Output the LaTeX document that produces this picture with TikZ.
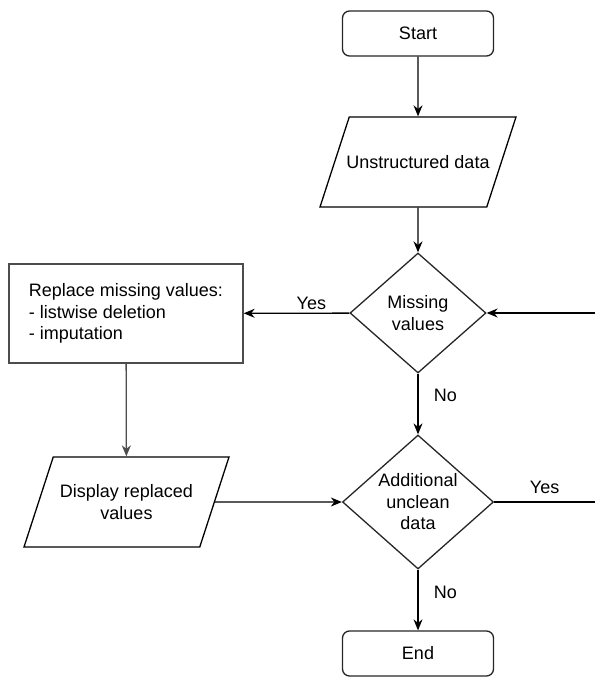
\documentclass[tikz,border=0pt]{standalone}
\usepackage{fontspec}
\setmainfont{Liberation Sans}
\usetikzlibrary{arrows.meta,shapes.geometric}

% text of the slanted input/output boxes, a fixed 90pt high
\newcommand{\iobox}[1]{\parbox[c][90pt][c]{134pt}{\centering #1}}

\begin{document}
\begin{tikzpicture}[x=1pt,y=-1pt,->,>={Stealth[length=11pt,width=9pt]},line width=1.3pt,
  font=\fontsize{18}{21.5}\selectfont,
  term node/.style={rectangle,rounded corners=7pt,draw=black!85,minimum width=151pt,minimum height=45pt},
  io node/.style={trapezium,trapezium left angle=72,trapezium right angle=108,trapezium stretches body,draw,inner sep=0pt},
  dec node/.style={diamond,draw=black!85,inner sep=0pt,align=center},
  proc node/.style={rectangle,draw=black!70,minimum width=234pt,minimum height=99pt,align=left}]

  \useasboundingbox (0,0) rectangle (595,677);

  \node[term node] (start) at (418,33.5) {Start};
  \node[io node,minimum width=196pt] (unstructured) at (418,162) {\iobox{\makebox[0pt]{Unstructured data}}};
  \node[dec node,shape aspect=1.133,minimum width=136pt,minimum height=120pt] (missing) at (418,313) {Missing\\values};
  \node[proc node] (replace) at (126,313.5) {Replace missing values:\\- listwise deletion\\- imputation};
  \node[io node,minimum width=205pt] (display) at (126.5,502) {\iobox{Display replaced\\values}};
  \node[dec node,shape aspect=1.127,minimum width=151pt,minimum height=134pt] (additional) at (418,502) {Additional\\unclean\\data};
  \node[term node] (end) at (418,653.5) {End};

  \coordinate (loopin) at (595,313);
  \coordinate (loopout) at (595,502);

  \path
    (start) edge (unstructured)
    (unstructured) edge (missing)
    (missing) edge node[above,pos=0.36] {Yes} (replace)
              edge node[right=12pt,pos=0.35] {No} (additional)
    (replace) edge[draw=black!70] (display)
    (display) edge (additional)
    (additional) edge node[right=12pt,pos=0.37] {No} (end)
                 edge[-] node[above=4pt] {Yes} (loopout)
    (loopin) edge (missing);
\end{tikzpicture}
\end{document}
